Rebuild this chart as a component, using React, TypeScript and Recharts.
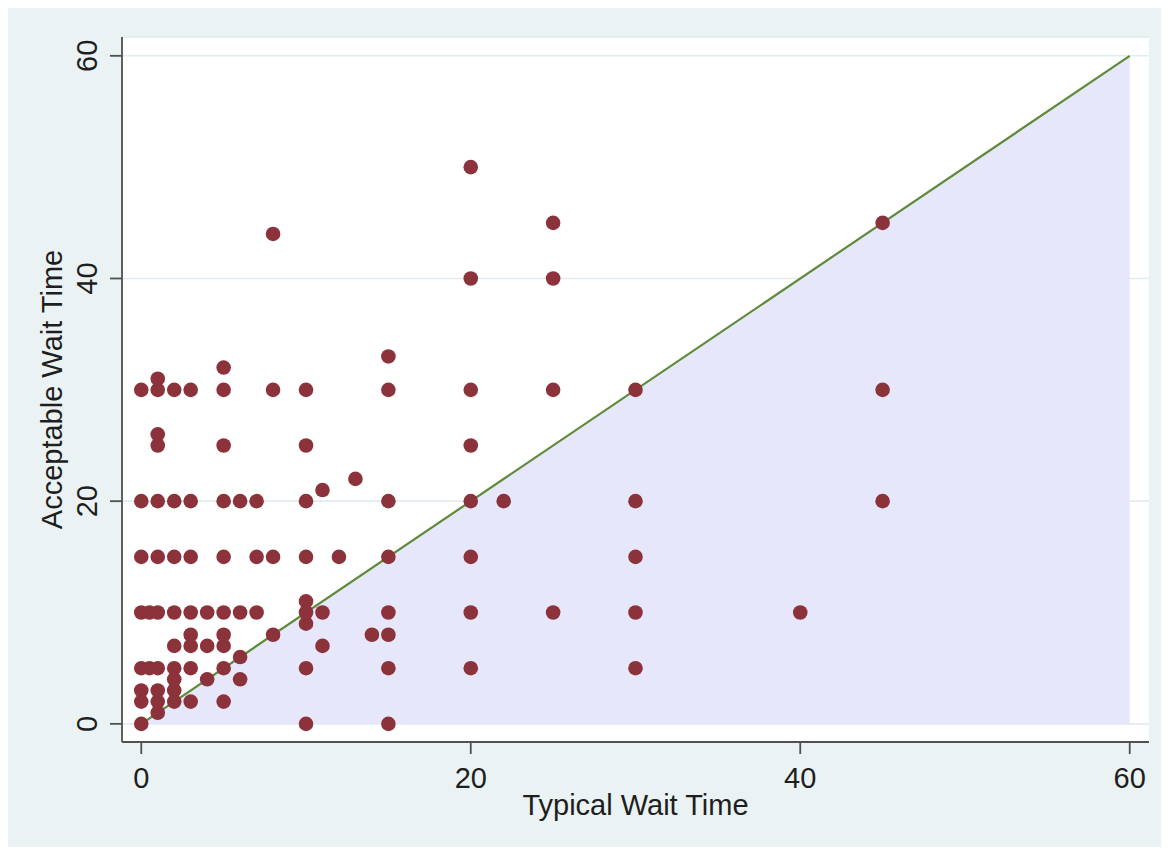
import React from 'react';
import {
  ComposedChart,
  Area,
  Line,
  Scatter,
  XAxis,
  YAxis,
  CartesianGrid,
  Label,
} from 'recharts';

// Typical wait time (x) and acceptable wait time (y), one entry per respondent point
const typicalWait = [
  0, 0, 0, 0, 0, 0, 0, 0,
  0.5, 0.5,
  1, 1, 1, 1, 1, 1, 1, 1, 1, 1, 1,
  2, 2, 2, 2, 2, 2, 2, 2, 2,
  3, 3, 3, 3, 3, 3, 3, 3,
  4, 4, 4,
  5, 5, 5, 5, 5, 5, 5, 5, 5, 5,
  6, 6, 6, 6,
  7, 7, 7,
  8, 8, 8, 8,
  10, 10, 10, 10, 10, 10, 10, 10, 10,
  11, 11, 11,
  12,
  13,
  14,
  15, 15, 15, 15, 15, 15, 15, 15,
  20, 20, 20, 20, 20, 20, 20, 20,
  22,
  25, 25, 25, 25,
  30, 30, 30, 30, 30,
  40,
  45, 45, 45,
];
const acceptableWait = [
  0, 2, 3, 5, 10, 15, 20, 30,
  5, 10,
  1, 2, 3, 5, 10, 15, 20, 25, 26, 30, 31,
  2, 3, 4, 5, 7, 10, 15, 20, 30,
  2, 5, 7, 8, 10, 15, 20, 30,
  4, 7, 10,
  2, 5, 7, 8, 10, 15, 20, 25, 30, 32,
  4, 6, 10, 20,
  10, 15, 20,
  8, 15, 30, 44,
  0, 5, 9, 10, 11, 15, 20, 25, 30,
  7, 10, 21,
  15,
  22,
  8,
  0, 5, 8, 10, 15, 20, 30, 33,
  5, 10, 15, 20, 25, 30, 40, 50,
  20,
  10, 30, 40, 45,
  5, 10, 15, 20, 30,
  10,
  20, 30, 45,
];

// Equality line (acceptable = typical)
const diagonalX = [0, 60];
const diagonalY = [0, 60];

const xTicks = [0, 20, 40, 60];
const yTicks = [0, 20, 40, 60];
const xDomain = [-1.17, 61.17];
const yDomain = [-1.63, 61.69];

const xTitle = 'Typical Wait Time';
const yTitle = 'Acceptable Wait Time';

const points = typicalWait.map((x, i) => ({ x, y: acceptableWait[i] }));
const diagonal = diagonalX.map((x, i) => ({ x, d: diagonalY[i] }));

const FONT = '"Liberation Sans", Arial, sans-serif';
const TEXT = '#1e1e1e';
const AXIS = '#505050';

const YTick = (p: any) => (
  <text
    x={p.x}
    y={p.y}
    transform={`rotate(-90 ${p.x} ${p.y})`}
    textAnchor="middle"
    fontFamily={FONT}
    fontSize={29}
    fill={TEXT}
  >
    {p.payload.value}
  </text>
);

const Dot = (p: any) => <circle cx={p.cx} cy={p.cy} r={7.3} fill="#8b323a" />;

export default function App() {
  return (
    <div style={{ width: 1153, height: 839, background: '#eaf2f3' }}>
      <ComposedChart
        width={1153}
        height={839}
        data={diagonal}
        margin={{ top: 29, right: 12, bottom: 31, left: 0 }}
      >
        <CartesianGrid
          vertical={false}
          stroke="#e2ebed"
          strokeWidth={1.6}
          fill="#ffffff"
        />
        <XAxis
          type="number"
          dataKey="x"
          domain={xDomain}
          ticks={xTicks}
          allowDataOverflow
          height={74}
          tickSize={12}
          tickMargin={13}
          stroke={AXIS}
          strokeWidth={1.8}
          tick={{ fontSize: 29, fill: TEXT, fontFamily: FONT }}
          tickLine={{ stroke: AXIS, strokeWidth: 1.8 }}
        >
          <Label
            content={(props: any) => {
              const vb = props.viewBox;
              return (
                <text
                  x={vb.x + vb.width / 2}
                  y={vb.y + 73}
                  textAnchor="middle"
                  fontFamily={FONT}
                  fontSize={29}
                  fill={TEXT}
                >
                  {xTitle}
                </text>
              );
            }}
          />
        </XAxis>
        <YAxis
          type="number"
          domain={yDomain}
          ticks={yTicks}
          allowDataOverflow
          width={114}
          tickSize={12}
          tickMargin={12.5}
          stroke={AXIS}
          strokeWidth={1.8}
          tick={<YTick />}
          tickLine={{ stroke: AXIS, strokeWidth: 1.8 }}
        >
          <Label
            content={(props: any) => {
              const vb = props.viewBox;
              const cx = vb.x + 54;
              const cy = vb.y + vb.height / 2;
              return (
                <text
                  x={cx}
                  y={cy}
                  transform={`rotate(-90 ${cx} ${cy})`}
                  textAnchor="middle"
                  fontFamily={FONT}
                  fontSize={29}
                  fill={TEXT}
                >
                  {yTitle}
                </text>
              );
            }}
          />
        </YAxis>
        <Area
          type="linear"
          dataKey="d"
          stroke="none"
          fill="#e7e7fb"
          fillOpacity={1}
          isAnimationActive={false}
          activeDot={false}
        />
        <Scatter
          data={points}
          dataKey="y"
          shape={<Dot />}
          isAnimationActive={false}
        />
        <Line
          type="linear"
          dataKey="d"
          stroke="#5e8a3a"
          strokeWidth={2.2}
          dot={false}
          activeDot={false}
          isAnimationActive={false}
        />
      </ComposedChart>
    </div>
  );
}
